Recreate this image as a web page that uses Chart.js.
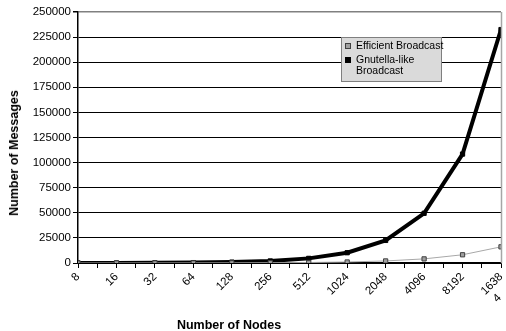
<!DOCTYPE html>
<html><head><meta charset="utf-8">
<script src="https://cdn.jsdelivr.net/npm/chart.js@4/dist/chart.umd.min.js"></script>
<style>
html,body{margin:0;padding:0;background:#fff;}
#wrap{position:relative;width:506px;height:331px;overflow:hidden;}
#legend{position:absolute;left:341px;top:37px;width:99px;height:43px;background:#dadada;border:1px solid #7f7f7f;font-family:"Liberation Sans",Arial,sans-serif;font-size:10.5px;color:#000;line-height:11.5px;}
.item{position:relative;padding-left:14px;margin-top:2px;}
.item.nw{white-space:nowrap;}
.mk{position:absolute;left:3px;top:3px;width:4px;height:4px;}
.ttl{position:absolute;font-family:"Liberation Sans",Arial,sans-serif;font-weight:bold;font-size:12.5px;color:#000;white-space:nowrap;line-height:14px;}
#xt{left:229px;top:325px;transform:translate(-50%,-50%);}
#yt{left:14px;top:153px;transform:translate(-50%,-50%) rotate(-90deg);}
</style></head>
<body><div id="wrap"><canvas id="c" width="506" height="331"></canvas><div id="legend"></div><div class="ttl" id="xt"></div><div class="ttl" id="yt"></div></div>
<script>
const categories = ["8","16","32","64","128","256","512","1024","2048","4096","8192","16384"];
const tickLabels = ["8","16","32","64","128","256","512","1024","2048","4096","8192",["1638","4     "]];
const efficient = [8,16,32,64,128,256,512,1024,2048,4096,8192,16100];
const gnutella = [24,64,160,384,896,2048,4608,10240,22500,49500,108500,232500];
const seriesNames = ["Efficient Broadcast","Gnutella-like Broadcast"];
const xTitle = "Number of Nodes";
const yTitle = "Number of Messages";
const yTicks = {min:0,max:250000,step:25000};

const toPts = arr => arr.map((v,i)=>({x:i,y:v}));
const font = {family:'"Liberation Sans", Arial, sans-serif', size:11.5};

const borderPlugin = {
  id:'border',
  afterDatasetsDraw(chart){
    const {ctx, chartArea:a} = chart;
    ctx.save();
    ctx.strokeStyle='#a6a6a6'; ctx.lineWidth=1.5;
    ctx.beginPath(); ctx.moveTo(a.right+0.5,a.top); ctx.lineTo(a.right+0.5,a.bottom); ctx.stroke();
    ctx.restore();
  }
};

new Chart(document.getElementById('c'),{
  type:'line',
  data:{datasets:[
    {label:seriesNames[0],data:toPts(efficient),borderColor:'#a8a8a8',borderWidth:1,pointStyle:'rect',pointRadius:3,pointBackgroundColor:'#a0a0a0',pointBorderColor:'#404040',pointBorderWidth:1,tension:0},
    {label:seriesNames[1],data:toPts(gnutella),borderColor:'#000',borderWidth:4,pointStyle:'rect',pointRadius:3,pointBackgroundColor:'#000',pointBorderColor:'#000',pointBorderWidth:1,tension:0}
  ]},
  options:{
    responsive:false,animation:false,
    layout:{padding:{top:12,right:4,left:0,bottom:0}},
    plugins:{legend:{display:false},tooltip:{enabled:false}},
    scales:{
      x:{type:'linear',min:0,max:categories.length-1,
        afterFit(s){s.height=68;s.paddingRight=0;s.paddingLeft=0;},
        ticks:{stepSize:0.5,autoSkip:false,maxRotation:45,minRotation:45,color:'#000',font:font,padding:2,
          callback:(v)=> Number.isInteger(v)? tickLabels[v] : ''},
        grid:{drawOnChartArea:false,tickLength:5,color:'#000',tickColor:'#000'},
        border:{color:'#000',width:1.5}
      },
      y:{min:yTicks.min,max:yTicks.max,
        afterFit(s){s.width=78;},
        ticks:{stepSize:yTicks.step,color:'#000',font:font,padding:2,callback:(v)=>String(v)},
        grid:{color:(c)=> c.tick.value===yTicks.max ? '#808080':'#000',lineWidth:(c)=> c.tick.value===yTicks.max?1.5:1,tickLength:5,tickColor:'#000'},
        border:{color:'#000',width:1.5}
      }
    }
  },
  plugins:[borderPlugin]
});

document.getElementById('xt').textContent = xTitle;
document.getElementById('yt').textContent = yTitle;
const lg = document.getElementById('legend');
const mkStyles = ['background:#a0a0a0;border:1px solid #404040;','background:#000;border:1px solid #000;'];
seriesNames.forEach((n,i)=>{
  const d=document.createElement('div'); d.className='item'+(i===0?' nw':'');
  d.innerHTML='<span class="mk" style="'+mkStyles[i]+'"></span>'+n;
  lg.appendChild(d);
});
</script></body></html>
